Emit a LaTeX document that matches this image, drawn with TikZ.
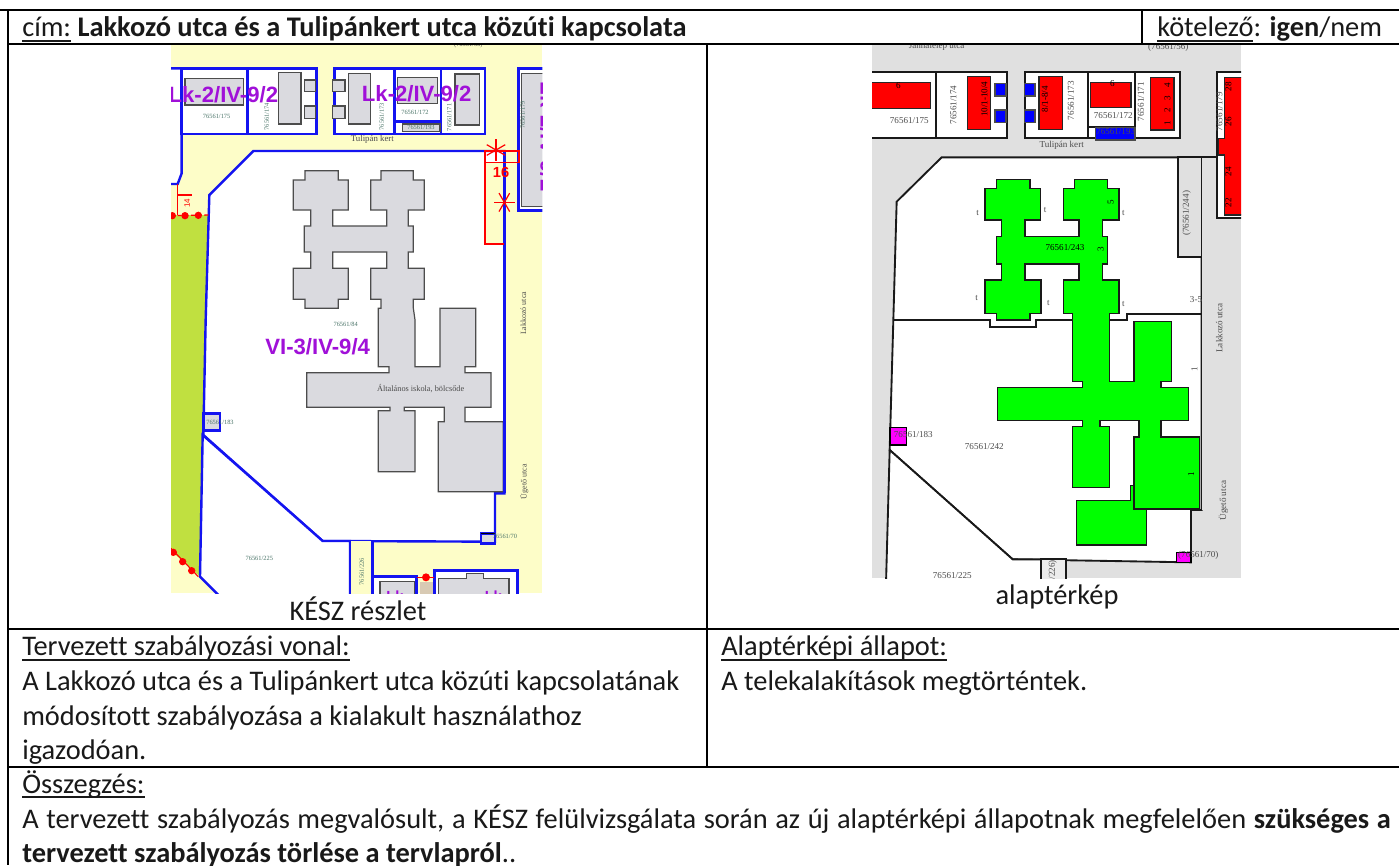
\documentclass[tikz,border=0pt]{standalone}
\usepackage{fontspec}
\usetikzlibrary{calc}
\setmainfont{Carlito}[Ligatures=CommonOff]
\newfontfamily\mapserif{Liberation Serif}
\newfontfamily\mapsans{Liberation Sans}
\newcommand\ulx[1]{\setbox0\hbox{#1}\rlap{\rule[-3.7pt]{\wd0}{1.1pt}}\box0\relax}
\definecolor{cream}{HTML}{FDFDC8}
\definecolor{planblue}{HTML}{1414F0}
\definecolor{leaf}{HTML}{C0E040}
\definecolor{bldg}{HTML}{DADADF}
\definecolor{lilac}{HTML}{A010D8}
\definecolor{road}{HTML}{E0E0E0}
\definecolor{greenlab}{HTML}{4A7468}
\definecolor{tan}{HTML}{D8CAB4}
\definecolor{pinkmag}{HTML}{FF00FF}
\tikzset{
  cell/.style={line width=1.5pt,black},
  txt/.style={anchor=base west,inner sep=0pt,font=\fontsize{21.3}{26}\selectfont,text=black!90},
  ctxt/.style={anchor=base,inner sep=0pt,font=\fontsize{21.3}{26}\selectfont,text=black!90},
  plot1/.style={draw=planblue,line width=1.8pt,fill=white},
  line1/.style={draw=planblue,line width=1.8pt},
  hh1/.style={draw=black!70,line width=0.9pt,fill=bldg},
  red1/.style={draw=red,line width=1pt},
  purple1/.style={inner sep=0pt,text=lilac,font=\mapsans\bfseries\fontsize{16.6}{18}\selectfont},
  lab1/.style={inner sep=0pt,text=greenlab,font=\mapserif\fontsize{4.8}{6}\selectfont},
  lab1b/.style={inner sep=0pt,text=black!70,font=\mapserif\fontsize{6}{7}\selectfont},
  plot2/.style={draw=black!90,line width=1.4pt,fill=white},
  line2/.style={draw=black!90,line width=1.4pt},
  redb/.style={draw=black!85,line width=1.1pt,fill=red},
  blueb/.style={draw=black!70,line width=1pt,fill=blue},
  greenb/.style={draw=black!90,line width=1pt,fill=green},
  magb/.style={draw=black,line width=1.1pt,fill=pinkmag},
  lab2/.style={inner sep=0pt,text=black!70,font=\mapserif\fontsize{6.8}{8}\selectfont},
}
\begin{document}
\begin{tikzpicture}[x=0.75pt,y=-0.75pt]
\useasboundingbox (0,0) rectangle (1399,865);
\fill[white] (0,0) rectangle (1399,865);

% ------- map 1 (coordinates in 1/3 px) -------
\begin{scope}[shift={(165,40)},x=0.25pt,y=-0.25pt]
\clip (18,15) rectangle (1132,1660);
\fill[cream] (18,15) rectangle (1132,1660);
\filldraw[plot1] (10,85) -- (50,85) -- (50,400) -- (38,432) -- (10,432) -- cycle;
\filldraw[plot1] (50,85) rectangle (248,282);
\filldraw[plot1] (248,85) rectangle (455,282);
\filldraw[plot1] (508,85) rectangle (688,282);
\filldraw[plot1] (688,85) rectangle (828,282);
\draw[line1] (688,245) -- (828,245);
\filldraw[plot1] (828,85) rectangle (960,282);
\filldraw[plot1] (1060,85) rectangle (1145,512);
% green strip
\fill[leaf] (10,525) -- (133,525) -- (105,1610) -- (10,1525) -- cycle;
% plots
\filldraw[plot1] (265,333) -- (1018,333) -- (1018,1360) -- (990,1360) -- (990,1505) -- (473,1503) -- (115,1185) -- (122,840) -- (133,465) -- cycle;
\filldraw[plot1] (113,1185) -- (473,1503) -- (555,1503) -- (555,1670) -- (165,1670) -- (105,1610) -- cycle;
\fill[cream] (555,1503) rectangle (622,1670);
\draw[line1] (555,1503) -- (555,1670) (622,1503) -- (622,1670);
% top row buildings
\filldraw[hh1] (60,115) rectangle (235,195);
\filldraw[hh1] (340,98) rectangle (408,252);
\filldraw[hh1] (418,120) rectangle (452,155);
\filldraw[hh1] (418,198) rectangle (452,235);
\filldraw[hh1] (502,120) rectangle (540,155);
\filldraw[hh1] (502,198) rectangle (540,235);
\filldraw[hh1] (550,100) rectangle (617,252);
\filldraw[hh1] (697,112) rectangle (817,190);
\filldraw[hh1] (870,102) rectangle (943,255);
\filldraw[hh1] (1070,100) rectangle (1140,500);
\filldraw[hh1] (712,252) rectangle (825,275);
% school
\filldraw[hh1] (420,392) -- (520,392) -- (520,420) -- (550,420) -- (550,510) -- (503,510) -- (503,558) -- (665,558) -- (665,510) -- (617,510) -- (617,420) -- (648,420) -- (648,392) -- (745,392) -- (745,420) -- (778,420) -- (778,510) -- (730,510) -- (730,558) -- (745,558) -- (745,636) -- (730,636) -- (730,685) -- (778,685) -- (778,778) -- (745,778) -- (745,805) -- (750,840) -- (750,980) -- (825,980) -- (825,805) -- (932,805) -- (932,980) -- (900,980) -- (900,998) -- (978,998) -- (978,1102) -- (900,1102) -- (900,1145) -- (1015,1145) -- (1015,1355) -- (820,1355) -- (820,1145) -- (838,1145) -- (838,1102) -- (718,1102) -- (718,1112) -- (750,1112) -- (750,1295) -- (640,1295) -- (640,1112) -- (675,1112) -- (675,1102) -- (425,1102) -- (425,998) -- (672,998) -- (672,980) -- (640,980) -- (640,805) -- (648,805) -- (648,778) -- (617,778) -- (617,685) -- (665,685) -- (665,636) -- (503,636) -- (503,685) -- (550,685) -- (550,778) -- (520,778) -- (520,805) -- (420,805) -- (420,778) -- (385,778) -- (385,685) -- (437,685) -- (437,636) -- (418,636) -- (418,558) -- (437,558) -- (437,510) -- (385,510) -- (385,420) -- (420,420) -- cycle;
% small corner parcels
\filldraw[draw=planblue,line width=1.8pt,fill=bldg] (115,1120) rectangle (165,1172);
\filldraw[draw=planblue,line width=1.8pt,fill=bldg] (948,1480) rectangle (990,1510);
\draw[black,line width=1.1pt] (948,1480) -- (990,1480);
% bottom block
\filldraw[plot1] (622,1610) rectangle (755,1680);
\filldraw[plot1] (808,1592) rectangle (1057,1680);
\filldraw[hh1] (645,1625) rectangle (748,1680);
\filldraw[hh1] (820,1615) -- (905,1615) -- (905,1600) -- (955,1600) -- (955,1615) -- (1032,1615) -- (1032,1680) -- (820,1680) -- cycle;
\fill[tan] (765,1625) rectangle (805,1680);
\draw[red,line width=0.6pt] (755,1612) -- (808,1612);
\fill[red] (783,1612) circle (12);
% red regulation
\fill[cream] (960,367) rectangle (1018,612);
\draw[line1] (1018,333) -- (1018,612) -- (1018,1360);
\draw[red1] (1018,612) -- (960,612) -- (960,333) -- (1062,333) -- (1062,367) -- (960,367);
\foreach \a in {90,30,150} \draw[red,line width=0.9pt] ($(993,330)+(\a:32)$) -- ($(993,330)+(\a+180:32)$);
\foreach \a in {0,60,120} \draw[red,line width=0.9pt] ($(1018,487)+(\a:32)$) -- ($(1018,487)+(\a+180:32)$);
\node[inner sep=0pt,text=red,font=\mapsans\bfseries\fontsize{11}{13}\selectfont] (m1six) at (1008,397) {16};
\draw[red1] (38,432) -- (38,525);
\draw[red1] (38,465) -- (82,465);
\node[inner sep=0pt,text=red,font=\mapsans\fontsize{6}{7}\selectfont,rotate=90] (m1four) at (66,490) {14};
\draw[red,line width=1pt,densely dashed] (18,527) -- (133,525);
\foreach \p in {(22,527),(60,527),(100,526),(25,1537),(53,1565),(80,1592)} \fill[red] \p circle (11);
\draw[red,line width=0.8pt] (18,1525) -- (100,1610);
% purple labels
\node[purple1] (m1z1) at (175,165) {Lk-2/IV-9/2};
\node[purple1] (m1z2) at (755,162) {Lk-2/IV-9/2};
\node[purple1,rotate=-90] (m1z3) at (1150,290) {Lk-2/IV-9/2};
\node[purple1] (m1z4) at (458,920) {VI-3/IV-9/4};
\node[purple1,font=\mapsans\bfseries\fontsize{11}{12}\selectfont] (m1z5) at (690,1668) {Lk};
\node[purple1,font=\mapsans\bfseries\fontsize{11}{12}\selectfont] (m1z6) at (985,1668) {Lk};
% small labels
\node[lab1] (m1a) at (155,230) {76561/175};
\node[lab1,rotate=90] (m1b) at (305,230) {76561/174};
\node[lab1,rotate=90] (m1c) at (650,230) {76561/173};
\node[lab1] (m1d) at (750,216) {76561/172};
\node[lab1,rotate=90] (m1e) at (853,232) {76561/171};
\node[lab1] (m1f) at (768,262) {76561/193};
\node[lab1,rotate=90] (m1g) at (1073,225) {76561/179};
\node[lab1b,font=\mapserif\fontsize{6.6}{8}\selectfont] (m1h) at (622,298) {Tulipán kert};
\node[lab1] (m1i) at (542,852) {76561/84};
\node[lab1b,font=\mapserif\fontsize{6.2}{8}\selectfont] (m1j) at (767,1046) {Általános iskola, bölcsőde};
\node[lab1] (m1k) at (165,1146) {76561/183};
\node[lab1] (m1l) at (283,1555) {76561/225};
\node[lab1,rotate=90] (m1m) at (590,1595) {76561/226};
\node[lab1] (m1n) at (1020,1490) {76561/70};
\node[lab1b,rotate=90] (m1o) at (1075,820) {Lakkozó utca};
\node[lab1b,rotate=90] (m1p) at (1078,1325) {Ügető utca};
\node[lab1b,font=\mapserif\fontsize{4.8}{6}\selectfont] (m1q) at (910,15) {(76561/56)};
\end{scope}

% ------- map 2 -------
\begin{scope}[shift={(865,40)},x=0.25pt,y=-0.25pt]
\clip (21,15) rectangle (1128,1615);
\fill[road] (21,15) rectangle (1128,1615);
\filldraw[plot2] (10,97) -- (213,97) -- (213,295) -- (10,295);
\filldraw[plot2] (213,97) rectangle (427,295);
\filldraw[plot2] (480,97) rectangle (668,295);
\filldraw[plot2] (668,97) rectangle (810,295);
\draw[line2] (668,262) -- (810,262);
\filldraw[plot2] (810,97) rectangle (946,295);
\filldraw[plot2] (1055,97) -- (1140,97) -- (1140,535) -- (1055,535) -- cycle;
\draw[line2] (1055,295) -- (1055,345);
% lots
\filldraw[plot2] (230,352) -- (1010,352) -- (1010,1410) -- (978,1410) -- (978,1567) -- (443,1558) -- (74,1230) -- (85,840) -- (95,485) -- cycle;
\filldraw[plot2] (74,1230) -- (443,1558) -- (528,1558) -- (528,1630) -- (63,1630) -- cycle;
\filldraw[draw=black!90,line width=1.4pt,fill=road!60] (528,1558) rectangle (602,1630);
\filldraw[draw=black!90,line width=1.4pt,fill=road] (940,352) -- (1010,352) -- (1010,652) -- (940,652) -- cycle;
\fill[road] (1012,352) rectangle (1052,1410);
\draw[line2] (1010,350) -- (1055,350);
\draw[line2] (85,840) -- (375,840) -- (375,862) -- (512,862) -- (512,840) -- (785,840) -- (785,822) -- (1008,822);
% red buildings
\filldraw[redb] (10,127) rectangle (196,205);
\filldraw[redb] (308,110) rectangle (377,268);
\filldraw[redb] (522,110) rectangle (593,268);
\filldraw[redb] (676,127) rectangle (798,202);
\filldraw[redb] (857,112) rectangle (927,270);
\fill[white] (1058,295) rectangle (1078,345);
\filldraw[redb] (1078,112) -- (1140,112) -- (1140,525) -- (1078,525) -- (1078,345) -- (1060,345) -- (1060,295) -- (1078,295) -- cycle;
% blue
\filldraw[blueb] (390,130) rectangle (423,168);
\filldraw[blueb] (390,210) rectangle (423,248);
\filldraw[blueb] (478,130) rectangle (510,168);
\filldraw[blueb] (478,210) rectangle (510,248);
\filldraw[blueb] (692,262) rectangle (810,300);
% green annex + school
\filldraw[greenb] (797,1337) -- (807,1337) -- (807,1407) -- (845,1407) -- (845,1515) -- (634,1515) -- (634,1382) -- (797,1382) -- cycle;
\filldraw[greenb] (395,418) -- (495,418) -- (495,445) -- (527,445) -- (527,540) -- (480,540) -- (480,590) -- (642,590) -- (642,540) -- (595,540) -- (595,445) -- (628,445) -- (628,418) -- (728,418) -- (728,445) -- (762,445) -- (762,540) -- (713,540) -- (713,590) -- (728,590) -- (728,672) -- (713,672) -- (713,720) -- (762,720) -- (762,820) -- (733,820) -- (733,1025) -- (807,1025) -- (807,845) -- (920,845) -- (920,1025) -- (888,1025) -- (888,1043) -- (970,1043) -- (970,1142) -- (888,1142) -- (888,1191) -- (1003,1191) -- (1003,1407) -- (807,1407) -- (807,1191) -- (822,1191) -- (822,1142) -- (705,1142) -- (705,1160) -- (733,1160) -- (733,1342) -- (622,1342) -- (622,1160) -- (653,1160) -- (653,1142) -- (397,1142) -- (397,1043) -- (653,1043) -- (653,1025) -- (622,1025) -- (622,820) -- (595,820) -- (595,720) -- (642,720) -- (642,672) -- (480,672) -- (480,720) -- (528,720) -- (528,820) -- (495,820) -- (495,840) -- (395,840) -- (395,820) -- (360,820) -- (360,720) -- (410,720) -- (410,672) -- (395,672) -- (395,590) -- (410,590) -- (410,540) -- (360,540) -- (360,445) -- (395,445) -- cycle;
% magenta
\filldraw[magb] (75,1163) rectangle (125,1215);
\filldraw[magb] (935,1537) rectangle (978,1567);
% labels
\node[lab2] (m2a) at (133,242) {76561/175};
\node[lab2,rotate=90] (m2b) at (265,195) {76561/174};
\node[lab2,rotate=90] (m2c) at (618,182) {76561/173};
\node[lab2] (m2d) at (745,226) {76561/172};
\node[lab2,rotate=90] (m2e) at (828,185) {76561/171};
\node[lab2] (m2f) at (752,274) {76561/193};
\node[lab2,rotate=90] (m2g) at (1063,215) {76561/179};
\node[lab2] (m2h) at (590,316) {Tulipán kert};
\node[lab2,text=black] (m2i) at (600,622) {76561/243};
\node[lab2,rotate=90] (m2j) at (965,520) {(76561/244)};
\node[lab2] (m2k) at (145,1184) {76561/183};
\node[lab2] (m2l) at (358,1220) {76561/242};
\node[lab2] (m2m) at (262,1608) {76561/225};
\node[lab2,rotate=90] (m2n) at (563,1628) {(76561/226)};
\node[lab2] (m2o) at (1000,1545) {(76561/70)};
\node[lab2,rotate=90] (m2p) at (1063,864) {Lakkozó utca};
\node[lab2,rotate=90] (m2q) at (1075,1382) {Ügető utca};
\node[lab2] (m2r) at (215,18) {Jánnalelep utca};
\node[lab2] (m2s) at (910,22) {(76561/56)};
\node[lab2,text=black,rotate=90] (m2t) at (358,178) {10/1-10/4};
\node[lab2,text=black,rotate=90] (m2u) at (540,178) {8/1-8/4};
\node[lab2,text=black,rotate=90] (m2v) at (907,192) {1\hspace{6pt}2\hspace{6pt}3\hspace{6pt}4};
\node[lab2,text=black] (m2w) at (100,137) {6};
\node[lab2,text=black] (m2x) at (742,132) {6};
\node[lab2,text=black,rotate=90] (m2y) at (1090,140) {28};
\node[lab2,text=black,rotate=90] (m2z) at (1090,245) {26};
\node[lab2,text=black,rotate=90] (m2aa) at (1090,395) {24};
\node[lab2,text=black,rotate=90] (m2ab) at (1090,488) {22};
\node[lab2] (m2ac) at (338,518) {t};
\node[lab2] (m2ad) at (540,510) {t};
\node[lab2] (m2ae) at (775,520) {t};
\node[lab2] (m2af) at (335,773) {t};
\node[lab2] (m2ag) at (550,788) {t};
\node[lab2] (m2ah) at (775,793) {t};
\node[lab2,text=black,rotate=90] (m2ai) at (737,488) {5};
\node[lab2,text=black,rotate=90] (m2aj) at (707,628) {3};
\node[lab2] (m2ak) at (993,780) {3-5};
\node[lab2,rotate=90] (m2al) at (988,988) {1};
\node[lab2,text=black,rotate=90] (m2am) at (978,1302) {1};
\end{scope}

% ------- table rules -------
\draw[cell] (0,10) -- (1399,10);
\draw[cell] (8,10) -- (8,865);
\draw[cell] (8,44) -- (1399,44);
\draw[cell] (1142,10) -- (1142,44);
\draw[cell] (707,44) -- (707,767);
\draw[cell] (8,629) -- (1399,629);
\draw[cell] (8,767) -- (1399,767);

% ------- texts -------
\node[txt] (cim) at (22,36.7) {\ulx{cím:} \textbf{Lakkozó utca és a Tulipánkert utca közúti kapcsolata}};
\node[txt] (kot) at (1157,36.7) {\ulx{kötelező}: \textbf{igen}/nem};
\node[ctxt] (kesz) at (358,620.7) {KÉSZ részlet};
\node[ctxt] (alap) at (1057,604) {alaptérkép};
\node[txt] (terv) at (22,655.7) {\ulx{Tervezett szabályozási vonal:}};
\node[txt] (t1) at (22,690) {A Lakkozó utca és a Tulipánkert utca közúti kapcsolatának};
\node[txt] (t2) at (22,725) {módosított szabályozása a kialakult használathoz};
\node[txt] (t3) at (22,759) {igazodóan.};
\node[txt] (ala) at (721,655.7) {\ulx{Alaptérképi állapot:}};
\node[txt] (a1) at (721,690) {A telekalakítások megtörténtek.};
\node[txt] (osz) at (22,793) {\ulx{Összegzés:}};
\node[txt] (o1) at (22,828) {\hbox to 1026.5pt{A tervezett szabályozás megvalósult, a KÉSZ felülvizsgálata során az új alaptérképi állapotnak megfelelően \textbf{szükséges a}}};
\node[txt] (o2) at (22,862) {\textbf{tervezett szabályozás törlése a tervlapról}..};
\end{tikzpicture}
\end{document}
